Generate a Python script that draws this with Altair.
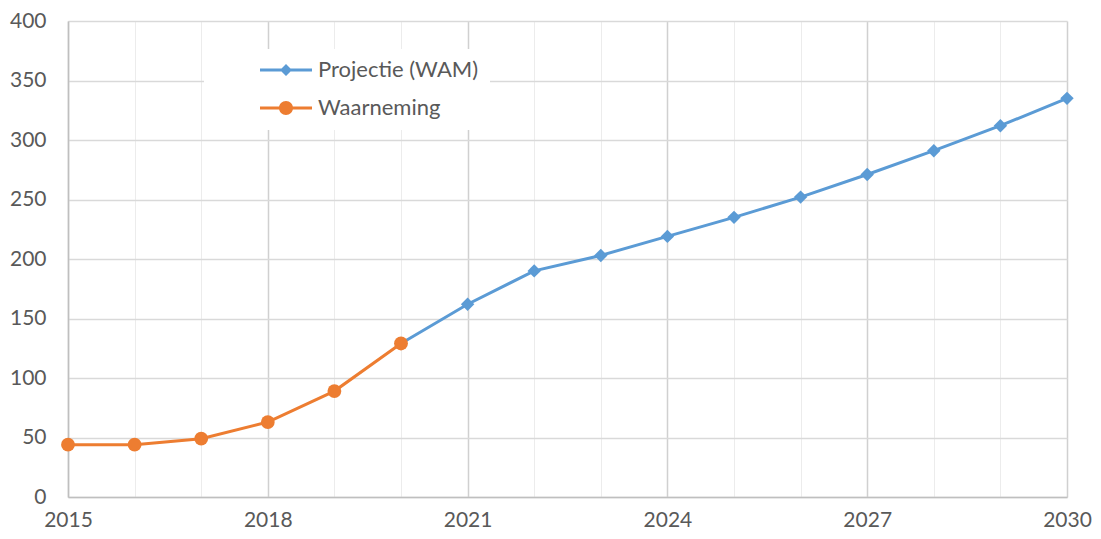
import altair as alt
import pandas as pd

# ---- data ----
series_names = ["Projectie (WAM)", "Waarneming"]
series_colors = ["#5B9BD5", "#ED7D31"]

obs_years = [2015, 2016, 2017, 2018, 2019, 2020]
obs_values = [44, 44, 49, 63, 89, 129]

proj_years = [2020, 2021, 2022, 2023, 2024, 2025, 2026, 2027, 2028, 2029, 2030]
proj_values = [129, 162, 190, 203, 219, 235, 252, 271, 291, 312, 335]

x_grid_years = list(range(2015, 2031))
y_ticks = [0, 50, 100, 150, 200, 250, 300, 350, 400]

FONT = "Lato"
TEXT = "#595959"

df_obs = pd.DataFrame({"jaar": obs_years, "waarde": obs_values, "reeks": series_names[1]})
df_proj = pd.DataFrame({"jaar": proj_years, "waarde": proj_values, "reeks": series_names[0]})
df_all = pd.concat([df_proj, df_obs], ignore_index=True)

major = "(datum.value - 2015) % 3 === 0"
x_enc = alt.X(
    "jaar:Q",
    scale=alt.Scale(domain=[2015, 2030], nice=False, zero=False),
    axis=alt.Axis(
        title=None,
        values=x_grid_years,
        format="d",
        labelExpr=major + " ? datum.label : ''",
        labelFont=FONT, labelFontSize=21, labelColor=TEXT, labelPadding=12,
        labelFlush=False, labelOverlap=False,
        ticks=False,
        domainColor="#BFBFBF", domainWidth=1.5,
        grid=True,
        gridColor={"condition": {"test": major, "value": "#D0D0D0"}, "value": "#ECECEC"},
        gridWidth={"condition": {"test": major, "value": 1.5}, "value": 1},
    ),
)
y_enc = alt.Y(
    "waarde:Q",
    scale=alt.Scale(domain=[0, 400], nice=False),
    axis=alt.Axis(
        title=None, values=y_ticks,
        labelFont=FONT, labelFontSize=21, labelColor=TEXT, labelPadding=22,
        labelFlush=False,
        ticks=False, domainColor="#BFBFBF", domainWidth=1.5,
        gridColor="#D9D9D9", gridWidth=1.5,
    ),
)

proj_line = alt.Chart(df_proj).mark_line(strokeWidth=3, color=series_colors[0]).encode(x=x_enc, y=y_enc)
proj_pts = alt.Chart(df_proj).mark_point(shape="diamond", filled=True, size=180, opacity=1,
                                         color=series_colors[0]).encode(x="jaar:Q", y="waarde:Q")
obs_line = alt.Chart(df_obs).mark_line(strokeWidth=3, color=series_colors[1]).encode(x="jaar:Q", y="waarde:Q")
obs_pts = alt.Chart(df_obs).mark_point(shape="circle", filled=True, size=190, opacity=1,
                                       color=series_colors[1]).encode(x="jaar:Q", y="waarde:Q")

# legend symbols: line segment + marker (custom paths, unit = 10px)
path_diamond = ("M-2.6,-0.15 L2.6,-0.15 L2.6,0.15 L-2.6,0.15 Z "
                "M0,-0.6 L0.6,0 L0,0.6 L-0.6,0 Z")
path_circle = ("M-2.6,-0.15 L2.6,-0.15 L2.6,0.15 L-2.6,0.15 Z "
               "M-0.7,0 A0.7,0.7 0 1,1 0.7,0 A0.7,0.7 0 1,1 -0.7,0 Z")

pad_text = "\u2003\u2002\u2009"
leg = alt.Legend(
    title=None, orient="none", legendX=136, legendY=28,
    fillColor="white", padding=10, strokeColor="white",
    symbolSize=400, symbolStrokeWidth=0, symbolOffset=61, labelOffset=21,
    rowPadding=16, labelFont=FONT, labelFontSize=22, labelColor=TEXT,
    labelLimit=500, labelExpr="datum.label + '" + pad_text + "'",
)
legend_layer = alt.Chart(df_all).transform_filter("false").mark_point(filled=True, opacity=1).encode(
    x="jaar:Q", y="waarde:Q",
    color=alt.Color("reeks:N", scale=alt.Scale(domain=series_names, range=series_colors), legend=leg),
    shape=alt.Shape("reeks:N", scale=alt.Scale(domain=series_names, range=[path_diamond, path_circle]), legend=leg),
)

chart = alt.layer(proj_line, proj_pts, obs_line, obs_pts, legend_layer).properties(
    width=999, height=476,
    autosize=alt.AutoSizeParams(type="none"),
    padding={"left": 60, "top": 13, "right": 26, "bottom": 34},
    background="white",
).configure_view(stroke=None)

chart.save("out.html", embed_options={"renderer": "svg", "actions": False})
